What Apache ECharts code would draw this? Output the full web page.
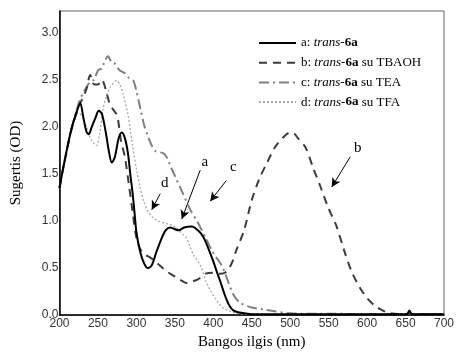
<!DOCTYPE html>
<html>
<head>
<meta charset="utf-8">
<script src="https://cdn.jsdelivr.net/npm/echarts@6/dist/echarts.min.js"></script>
<style>html,body{margin:0;padding:0;background:#fff}#c{width:457px;height:355px}</style>
</head>
<body>
<div id="c"></div>
<script>
// Series names
const seriesNames = [
  'a: {i|trans}-{b|6a}',
  'b: {i|trans}-{b|6a} su TBAOH',
  'c: {i|trans}-{b|6a} su TEA',
  'd: {i|trans}-{b|6a} su TFA'
];
// a: trans-6a
const wlA = [200,205,215,222,227,231,235,238,242,247,251,255,260,264,268,272,277,281,285,289,292,295,298,300,305,310,315,320,326,332,338,344,348,355,362,372,380,387,393,400,405,409,413,417,421,426,432,440,450,650,653,655,657,660,700];
const odA = [1.35,1.57,1.96,2.15,2.25,2.1,1.95,1.92,2.0,2.1,2.17,2.14,1.95,1.75,1.62,1.68,1.88,1.94,1.88,1.72,1.5,1.3,1.05,0.88,0.67,0.55,0.5,0.53,0.67,0.8,0.9,0.93,0.92,0.9,0.93,0.94,0.9,0.83,0.72,0.57,0.45,0.36,0.26,0.17,0.1,0.05,0.03,0.02,0.01,0.01,0.02,0.05,0.02,0.01,0.01];
// b: trans-6a su TBAOH
const wlB = [200,205,215,225,230,235,240,245,250,255,260,265,270,275,280,285,290,295,300,305,310,320,330,340,350,360,365,370,380,390,400,410,415,420,425,430,440,450,460,470,480,490,500,505,510,520,530,540,550,560,570,580,590,600,610,620,630,650,700];
const odB = [1.35,1.57,1.95,2.22,2.3,2.4,2.55,2.45,2.45,2.5,2.4,2.25,2.18,2.12,1.85,1.68,1.4,1.1,0.82,0.7,0.65,0.6,0.53,0.46,0.41,0.36,0.34,0.35,0.38,0.44,0.45,0.44,0.45,0.49,0.57,0.69,0.9,1.22,1.45,1.62,1.78,1.88,1.94,1.93,1.88,1.78,1.56,1.35,1.13,0.95,0.69,0.46,0.3,0.18,0.1,0.05,0.02,0.01,0.01];
// c: trans-6a su TEA
const wlC = [200,205,215,225,230,235,240,245,250,255,258,263,268,272,278,285,290,296,300,305,310,315,320,325,335,340,345,350,360,370,380,390,400,410,415,420,426,435,450,465,480,500,520,700];
const odC = [1.35,1.57,1.96,2.25,2.35,2.42,2.48,2.5,2.6,2.62,2.68,2.75,2.68,2.67,2.6,2.57,2.52,2.49,2.38,2.2,2.02,1.9,1.8,1.74,1.72,1.67,1.57,1.48,1.3,1.12,0.98,0.82,0.66,0.54,0.45,0.34,0.22,0.13,0.08,0.06,0.04,0.02,0.015,0.01];
// d: trans-6a su TFA
const wlD = [200,205,215,225,230,235,240,245,248,252,257,262,266,274,279,283,289,295,300,305,310,315,320,328,340,350,360,365,370,375,383,391,397,404,412,420,430,450,700];
const odD = [1.35,1.57,1.95,2.15,2.1,2.0,1.88,1.82,1.8,1.92,2.2,2.35,2.42,2.49,2.44,2.34,2.13,1.8,1.55,1.35,1.2,1.1,1.05,1.0,0.97,0.94,0.86,0.82,0.72,0.63,0.53,0.35,0.25,0.16,0.08,0.045,0.02,0.01,0.01];
// Axis ticks
const xMin = 200, xMax = 700, xStep = 50;
const yMin = 0, yMax = 3.23, yStep = 0.5;
// Annotations (data coordinates): letter, text position, arrow start, arrow end
const annLetters = ['a','b','c','d'];
const annText = [[389,1.63],[588,1.77],[426,1.57],[337,1.40]];
const annFrom = [[383,1.54],[578,1.68],[417,1.43],[331,1.29]];
const annTo = [[359,1.02],[554,1.36],[396,1.21],[320,1.12]];

const zip = (xs, ys) => xs.map((x, i) => [x, ys[i]]);
const chart = echarts.init(document.getElementById('c'));
const serif = '"Liberation Serif","Times New Roman",serif';
const sans = '"Liberation Sans",Arial,sans-serif';
const styles = [
  {color:'#000000', width:2, type:'solid'},
  {color:'#3c3c3c', width:2, type:[8,6]},
  {color:'#808080', width:2, type:[10,4,2,4]},
  {color:'#a8a8a8', width:1.3, type:[2,2]}
];
const datas = [zip(wlA,odA), zip(wlB,odB), zip(wlC,odC), zip(wlD,odD)];
const series = datas.map((d, i) => ({
  name: seriesNames[i], type:'line', data:d, symbol:'none', smooth:0.3,
  lineStyle: styles[i], itemStyle:{color:styles[i].color}, z: 10 - i,
  animation:false
}));
series[0].markLine = {
  silent:true, animation:false, symbol:['none','arrow'], symbolSize:[7,9],
  lineStyle:{color:'#000', width:1, type:'solid'}, label:{show:false},
  data: annFrom.map((f, i) => [{coord:f}, {coord:annTo[i]}])
};
series[0].markPoint = {
  silent:true, animation:false, symbol:'circle', symbolSize:0,
  label:{show:true, position:'inside', color:'#000', fontFamily:serif, fontSize:15, formatter:p => p.name},
  data: annText.map((t, i) => ({name:annLetters[i], coord:t}))
};
chart.setOption({
  animation:false,
  backgroundColor:'#fff',
  grid:{left:59.5, right:13, top:11, bottom:34, show:true, borderColor:'#666', borderWidth:1},
  legend:{
    orient:'vertical', left:258, top:36.5, padding:0, itemWidth:37, itemHeight:14, itemGap:6.7,
    itemStyle:{color:'rgba(0,0,0,0)', borderColor:'rgba(0,0,0,0)', borderWidth:0, opacity:0},
    textStyle:{fontFamily:serif, fontSize:13, color:'#000',
      rich:{i:{fontFamily:serif, fontSize:13, fontStyle:'italic', color:'#000'},
            b:{fontFamily:serif, fontSize:13, fontWeight:'bold', color:'#000'}}},
    data: seriesNames
  },
  xAxis:{
    type:'value', min:xMin, max:xMax, interval:xStep,
    name:'Bangos ilgis (nm)', nameLocation:'middle', nameGap:18,
    nameTextStyle:{fontFamily:serif, fontSize:15, color:'#000'},
    axisLine:{lineStyle:{color:'#000', width:1.5}}, axisTick:{show:false},
    axisLabel:{fontFamily:sans, fontSize:12, color:'#333', margin:3},
    splitLine:{show:false}
  },
  yAxis:{
    type:'value', min:yMin, max:yMax, interval:yStep,
    name:'Sugertis (OD)', nameLocation:'middle', nameGap:36,
    nameTextStyle:{fontFamily:serif, fontSize:15, color:'#000'},
    axisLine:{show:true, lineStyle:{color:'#000', width:1.5}}, axisTick:{show:false},
    axisLabel:{fontFamily:sans, fontSize:12, color:'#333', margin:1,
      formatter: v => (Math.abs(v / yStep - Math.round(v / yStep)) < 1e-6 ? v.toFixed(1) : '')},
    splitLine:{show:false}
  },
  series: series
});
</script>
</body>
</html>
